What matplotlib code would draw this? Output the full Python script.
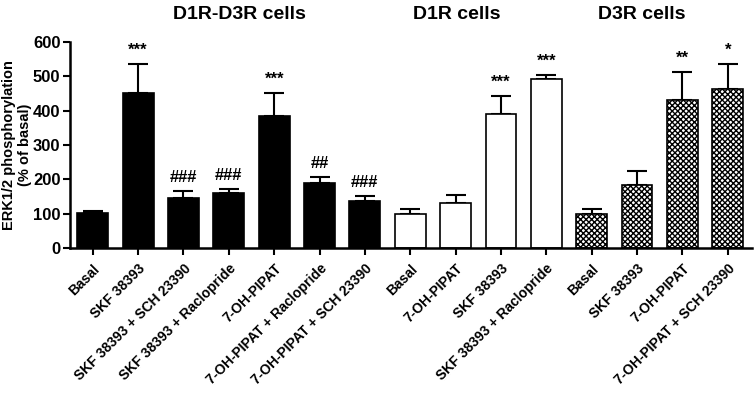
import matplotlib
matplotlib.use("Agg")
import matplotlib.pyplot as plt
import numpy as np

plt.rcParams['font.family'] = ['Liberation Sans', 'DejaVu Sans']
plt.rcParams['font.weight'] = 'bold'
plt.rcParams['hatch.linewidth'] = 1.0

labels = ['Basal', 'SKF 38393', 'SKF 38393 + SCH 23390', 'SKF 38393 + Raclopride',
          '7-OH-PIPAT', '7-OH-PIPAT + Raclopride', '7-OH-PIPAT + SCH 23390',
          'Basal', '7-OH-PIPAT', 'SKF 38393', 'SKF 38393 + Raclopride',
          'Basal', 'SKF 38393', '7-OH-PIPAT', '7-OH-PIPAT + SCH 23390']
values = [101, 452, 144, 161, 384, 190, 136,
          99, 131, 389, 491,
          98, 183, 430, 464]
errors = [6, 85, 21, 10, 68, 17, 16,
          15, 23, 54, 14,
          16, 42, 82, 72]
marks = ['', '***', '###', '###', '***', '##', '###',
         '', '', '***', '***',
         '', '', '**', '*']
groups = ['D1R-D3R', 'D1R-D3R', 'D1R-D3R', 'D1R-D3R', 'D1R-D3R', 'D1R-D3R', 'D1R-D3R',
          'D1R', 'D1R', 'D1R', 'D1R',
          'D3R', 'D3R', 'D3R', 'D3R']

styles = {'D1R-D3R': dict(color='black', edgecolor='black', hatch=None),
          'D1R': dict(color='white', edgecolor='black', hatch=None),
          'D3R': dict(color='white', edgecolor='black', hatch='xxxxxx')}

fig = plt.figure(figsize=(7.54, 4.01), dpi=100)
ax = fig.add_axes([0.093, 0.382, 0.904, 0.513])

x = np.arange(len(values))
for i in x:
    st = styles[groups[i]]
    ax.bar(x[i], values[i], width=0.68, color=st['color'], edgecolor=st['edgecolor'],
           hatch=st['hatch'], linewidth=1.2, zorder=2)
ax.errorbar(x, values, yerr=[np.zeros(len(errors)), errors], fmt='none',
            ecolor='black', elinewidth=1.5, capsize=7, capthick=1.5, zorder=1)

for i in x:
    if marks[i]:
        ax.text(x[i], values[i] + errors[i] + 18, marks[i], ha='center', va='bottom',
                fontsize=12, fontweight='bold')

ax.set_xlim(-0.5, 14.53)
ax.set_ylim(0, 600)
ax.set_yticks(range(0, 601, 100))
ax.set_xticks(x)
ax.set_xticklabels(labels, rotation=45, ha='right', rotation_mode='anchor', fontsize=10)
ax.tick_params(axis='y', labelsize=12, width=1.5, length=5, pad=2)
ax.tick_params(axis='x', width=1.5, length=5, pad=5)
ax.set_ylabel('ERK1/2 phosphorylation\n(% of basal)', fontsize=10.5, fontweight='bold',
              labelpad=1, linespacing=1.1)
for side in ['top', 'right']:
    ax.spines[side].set_visible(False)
for side in ['left', 'bottom']:
    ax.spines[side].set_linewidth(1.8)

fig.text(239 / 754, 0.965, 'D1R-D3R cells', ha='center', va='center', fontsize=14, fontweight='bold')
fig.text(457 / 754, 0.965, 'D1R cells', ha='center', va='center', fontsize=14, fontweight='bold')
fig.text(642 / 754, 0.965, 'D3R cells', ha='center', va='center', fontsize=14, fontweight='bold')

fig.savefig('out.png', dpi=100)
